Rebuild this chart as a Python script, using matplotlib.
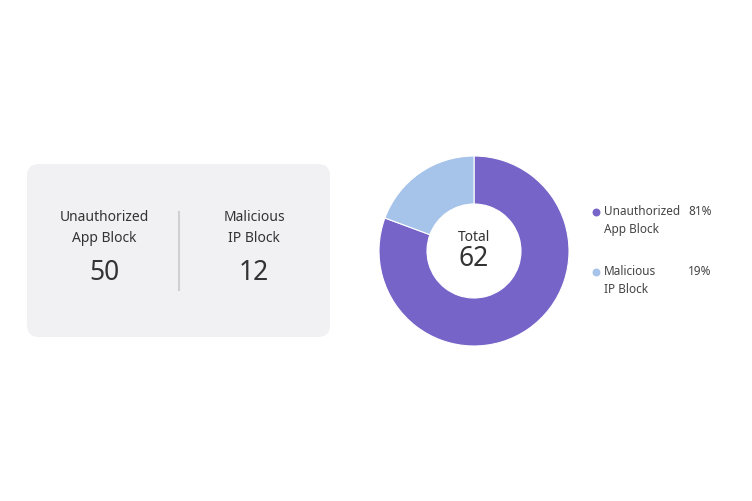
import matplotlib.pyplot as plt
from matplotlib.patches import FancyBboxPatch

labels = ["Unauthorized\nApp Block", "Malicious\nIP Block"]
values = [50, 12]
colors = ["#7764c8", "#a6c3ea"]

W, H = 752, 501
fig = plt.figure(figsize=(7.52, 5.01), dpi=100)
ax = fig.add_axes([0, 0, 1, 1])
ax.set_xlim(0, W)
ax.set_ylim(0, H)
ax.set_aspect("equal")
ax.axis("off")

def Y(y):
    return H - y

font = "Noto Sans"
card = FancyBboxPatch((27, Y(337)), 303, 173, boxstyle="round,pad=0,rounding_size=12",
                      fc="#f1f1f3", ec="none")
ax.add_patch(card)
ax.plot([179, 179], [Y(212), Y(290)], color="#cfcfd4", lw=1.5)
for cx, lab, val in zip([104, 254], labels, values):
    ax.text(cx, Y(228), lab, ha="center", va="center", fontsize=10, color="#333333",
            family=font, linespacing=1.5)
    ax.text(cx, Y(273), str(val), ha="center", va="center", fontsize=19, color="#333333",
            family=font, fontweight="bold")

total = sum(values)
ax.pie(values, colors=colors, startangle=90, counterclock=False, center=(474, Y(251)),
       radius=95, wedgeprops=dict(width=48, ec="white", lw=0.8), frame=True)
ax.set_xlim(0, W)
ax.set_ylim(0, H)
ax.axis("off")
ax.text(474, Y(237), "Total", ha="center", va="center", fontsize=10, color="#333333", family=font)
ax.text(474, Y(259), str(total), ha="center", va="center", fontsize=19, color="#333333",
        family=font, fontweight="bold")

for i, (lab, val, c) in enumerate(zip(labels, values, colors)):
    y = 212 + i * 60
    ax.scatter([596], [Y(y)], s=22, color=c, zorder=3)
    ax.text(604, Y(y - 7), lab, ha="left", va="top", fontsize=8.5, color="#444444",
            family=font, linespacing=1.5)
    pct = round(val / total * 100)
    ax.text(688, Y(y - 7), f"{pct}%", ha="left", va="top", fontsize=8.5, color="#444444",
            family=font)

fig.savefig("out.png", dpi=100, facecolor="white")
